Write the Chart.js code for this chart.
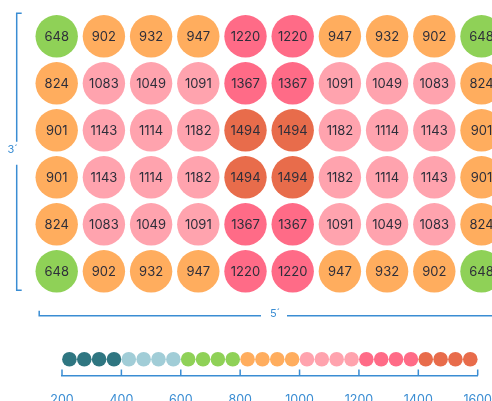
<!DOCTYPE html>
<html>
<head>
<meta charset="utf-8">
<script src="https://cdn.jsdelivr.net/npm/chart.js@4.4.1/dist/chart.umd.min.js"></script>
<style>
  html, body { margin: 0; padding: 0; background: #ffffff; overflow: hidden; }
  body { width: 492px; height: 401px; position: relative; }
  #gridWrap { position: absolute; left: 0; top: 0; width: 492px; height: 330px; }
  #legWrap { position: absolute; left: 0; top: 340px; width: 501px; height: 68px; }
</style>
</head>
<body>
<div id="gridWrap"><canvas id="grid"></canvas></div>
<div id="legWrap"><canvas id="leg"></canvas></div>
<script>
// ---- data ----
const columns = ['1', '2', '3', '4', '5', '6', '7', '8', '9', '10'];
const rowsLabels = ['1', '2', '3', '4', '5', '6'];
const row1 = [648, 902, 932, 947, 1220, 1220, 947, 932, 902, 648];
const row2 = [824, 1083, 1049, 1091, 1367, 1367, 1091, 1049, 1083, 824];
const row3 = [901, 1143, 1114, 1182, 1494, 1494, 1182, 1114, 1143, 901];
const row4 = [901, 1143, 1114, 1182, 1494, 1494, 1182, 1114, 1143, 901];
const row5 = [824, 1083, 1049, 1091, 1367, 1367, 1091, 1049, 1083, 824];
const row6 = [648, 902, 932, 947, 1220, 1220, 947, 932, 902, 648];
const gridRows = [row1, row2, row3, row4, row5, row6];

const legendValues = [225, 275, 325, 375, 425, 475, 525, 575, 625, 675, 725, 775, 825, 875,
                      925, 975, 1025, 1075, 1125, 1175, 1225, 1275, 1325, 1375, 1425, 1475, 1525, 1575];
const legendTicks = [200, 400, 600, 800, 1000, 1200, 1400, 1600];
const widthLabel = '5´';
const heightLabel = '3´';

// ---- styles ----
const binEdges = [400, 600, 800, 1000, 1200, 1400];
const binColors = ['#2f7681', '#a1cdd7', '#8fd157', '#ffad5e', '#ffa3ae', '#ff6b87', '#e86c4b'];
function colorFor(v) {
  let i = 0;
  while (i < binEdges.length && v >= binEdges[i]) i++;
  return binColors[i];
}
const BLUE = '#3a8dd3';
const FONT = 'Inter, "Open Sans", sans-serif';

// build scatter points from the arrays
const gridPoints = [];
gridRows.forEach((r, ri) => r.forEach((v, ci) => gridPoints.push({ x: ci, y: ri, v: v })));

const valueLabels = {
  id: 'valueLabels',
  afterDatasetsDraw(chart) {
    const ctx = chart.ctx;
    const meta = chart.getDatasetMeta(0);
    ctx.save();
    ctx.font = '13px ' + FONT;
    ctx.fillStyle = '#2e2e3a';
    ctx.textAlign = 'center';
    ctx.textBaseline = 'middle';
    meta.data.forEach((el, i) => {
      ctx.fillText(String(gridPoints[i].v), el.x, el.y + 1);
    });
    ctx.restore();
  }
};

const brackets = {
  id: 'brackets',
  afterDraw(chart) {
    const ctx = chart.ctx;
    const xs = chart.scales.x, ys = chart.scales.y;
    const top = ys.getPixelForValue(0) - 23;
    const bot = ys.getPixelForValue(5) + 19;
    const lx = xs.getPixelForValue(0) - 40;
    const mid = (top + bot) / 2;
    ctx.save();
    ctx.strokeStyle = BLUE;
    ctx.lineWidth = 1.5;
    ctx.beginPath();
    ctx.moveTo(lx + 5, top); ctx.lineTo(lx, top); ctx.lineTo(lx, mid - 10);
    ctx.moveTo(lx, mid + 13); ctx.lineTo(lx, bot); ctx.lineTo(lx + 5, bot);
    // bottom bracket
    const by = bot + 25.5;
    const bx = xs.getPixelForValue(0) - 17.5;
    const bmid = 274;
    ctx.moveTo(bx, by - 5); ctx.lineTo(bx, by); ctx.lineTo(bmid - 13, by);
    ctx.moveTo(bmid + 13, by); ctx.lineTo(chart.width + 5, by);
    ctx.stroke();
    ctx.fillStyle = BLUE;
    ctx.font = '11px ' + FONT;
    ctx.textAlign = 'center';
    ctx.textBaseline = 'middle';
    ctx.fillText(heightLabel, lx - 4, mid - 2);
    ctx.fillText(widthLabel, bmid + 1, by - 2);
    ctx.restore();
  }
};

new Chart(document.getElementById('grid'), {
  type: 'scatter',
  data: {
    datasets: [{
      data: gridPoints,
      pointRadius: 21.2,
      pointHoverRadius: 21.2,
      pointBorderWidth: 0,
      pointBackgroundColor: gridPoints.map(p => colorFor(p.v)),
      clip: false
    }]
  },
  options: {
    responsive: true,
    maintainAspectRatio: false,
    animation: false,
    events: [],
    layout: { autoPadding: false, padding: { left: 56.7, right: 10.5, top: 36.3, bottom: 58.7 } },
    plugins: { legend: { display: false }, tooltip: { enabled: false } },
    scales: {
      x: { type: 'linear', min: 0, max: columns.length - 1, display: false },
      y: { type: 'linear', min: 0, max: rowsLabels.length - 1, reverse: true, display: false }
    }
  },
  plugins: [valueLabels, brackets]
});

const upTicks = {
  id: 'upTicks',
  afterDraw(chart) {
    const ctx = chart.ctx;
    const xs = chart.scales.x;
    ctx.save();
    ctx.strokeStyle = BLUE;
    ctx.lineWidth = 1.5;
    ctx.beginPath();
    legendTicks.forEach(t => {
      const px = xs.getPixelForValue(t);
      ctx.moveTo(px, xs.top);
      ctx.lineTo(px, xs.top - 6);
    });
    ctx.stroke();
    ctx.restore();
  }
};

new Chart(document.getElementById('leg'), {
  type: 'scatter',
  data: {
    datasets: [{
      data: legendValues.map(v => ({ x: v, y: 0.5 })),
      pointRadius: 7.3,
      pointHoverRadius: 7.3,
      pointBorderWidth: 0,
      pointBackgroundColor: legendValues.map(colorFor),
      clip: false
    }]
  },
  options: {
    responsive: true,
    maintainAspectRatio: false,
    animation: false,
    events: [],
    layout: { autoPadding: false, padding: { left: 62, right: 14, top: 3, bottom: 0 } },
    plugins: { legend: { display: false }, tooltip: { enabled: false } },
    scales: {
      x: {
        type: 'linear', min: 200, max: 1600,
        afterBuildTicks: (s) => { s.ticks = legendTicks.map(v => ({ value: v })); },
        grid: { display: false },
        border: { display: true, color: BLUE, width: 1.5 },
        ticks: { color: BLUE, font: { family: FONT, size: 12.5 }, padding: 9, maxRotation: 0,
                 callback: (v) => String(v) }
      },
      y: { type: 'linear', min: 0, max: 1, display: false }
    }
  },
  plugins: [upTicks]
});
</script>
</body>
</html>
